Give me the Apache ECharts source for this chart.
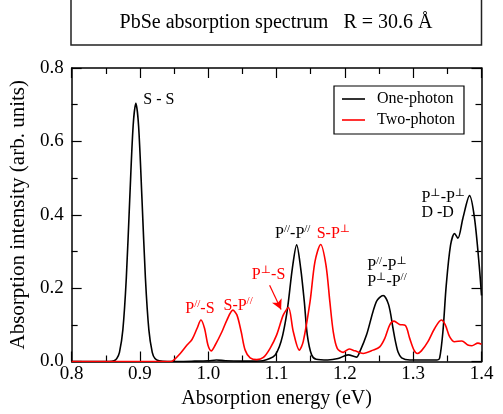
<!DOCTYPE html>
<html>
<head>
<meta charset="utf-8">
<script src="https://cdn.jsdelivr.net/npm/echarts@6/dist/echarts.min.js"></script>
<style>
html,body{margin:0;padding:0;background:#fff;}
#chart{width:503px;height:414px;}
</style>
</head>
<body>
<div id="chart"></div>
<script>
// ---- data ----
const onePhoton = [
  [0.80,0],[0.855,0],[0.862,0.002],[0.866,0.008],[0.870,0.025],[0.875,0.087],[0.880,0.227],
  [0.885,0.441],[0.890,0.642],[0.894,0.704],[0.898,0.642],[0.903,0.441],[0.908,0.227],
  [0.913,0.087],[0.918,0.025],[0.922,0.008],[0.928,0.002],[0.94,0],[0.98,0.001],[1.0,0.002],
  [1.012,0.004],[1.025,0.002],[1.05,0.001],[1.07,0.001],[1.080,0.002],[1.090,0.008],
  [1.098,0.018],[1.104,0.040],[1.109,0.072],[1.114,0.120],[1.1173,0.163],[1.1231,0.254],
  [1.1294,0.318],[1.1353,0.254],[1.1406,0.163],[1.145,0.072],[1.1513,0.018],[1.158,0.006],
  [1.175,0.004],[1.190,0.008],[1.2048,0.018],[1.2170,0.012],[1.2219,0.027],[1.2316,0.072],
  [1.246,0.163],[1.256,0.180],[1.264,0.155],[1.2705,0.090],[1.274,0.055],[1.278,0.025],
  [1.283,0.010],[1.295,0.004],[1.335,0.004],[1.3387,0.009],[1.3435,0.081],[1.3484,0.208],
  [1.3547,0.317],[1.3606,0.349],[1.3655,0.336],[1.3727,0.390],[1.3825,0.452],[1.3898,0.390],
  [1.397,0.254],[1.400,0.180]
];
const twoPhoton = [
  [0.80,0],[0.945,0],[0.9494,0.004],[0.959,0.022],[0.9689,0.045],[0.9762,0.060],[0.9835,0.090],
  [0.9893,0.113],[0.9946,0.090],[0.9995,0.045],[1.0044,0.029],[1.0102,0.045],[1.020,0.081],
  [1.0273,0.113],[1.036,0.140],[1.0419,0.127],[1.0482,0.081],[1.054,0.031],[1.0613,0.010],
  [1.071,0.005],[1.0807,0.011],[1.0905,0.036],[1.100,0.072],[1.1099,0.127],[1.1173,0.147],
  [1.1245,0.081],[1.1333,0.031],[1.139,0.054],[1.149,0.163],[1.1562,0.272],[1.1645,0.319],
  [1.1723,0.263],[1.178,0.163],[1.183,0.081],[1.1888,0.036],[1.1975,0.025],[1.2063,0.034],
  [1.2146,0.029],[1.2267,0.022],[1.2413,0.031],[1.251,0.040],[1.2584,0.063],[1.2657,0.100],
  [1.272,0.110],[1.280,0.101],[1.2886,0.098],[1.2949,0.063],[1.3012,0.031],[1.306,0.022],
  [1.312,0.029],[1.3216,0.054],[1.3314,0.090],[1.3412,0.113],[1.347,0.100],[1.3533,0.068],
  [1.3606,0.054],[1.3712,0.056],[1.380,0.045],[1.386,0.043],[1.3947,0.050],[1.400,0.047]
];
const seriesNames = ['One-photon','Two-photon'];
const xTicks = {min:0.8, max:1.4, interval:0.1};
const yTicks = {min:0.0, max:0.8, interval:0.2};
const titleText = 'PbSe absorption spectrum   R = 30.6 Å';
const xName = 'Absorption energy (eV)';
const yName = 'Absorption intensity (arb. units)';
// annotations: [rich text, energy, intensity, colour]
const annotations = [
  ['{m|S - S}', 0.905, 0.713, '#000'],
  ['{m|P}{s|//}{m|-S}', 0.9664, 0.144, '#f00'],
  ['{m|S-P}{s|//}', 1.0223, 0.152, '#f00'],
  ['{m|P}{s|⊥}{m|-S}', 1.0638, 0.236, '#f00'],
  ['{m|P}{s|//}{m|-P}{s|//}', 1.0978, 0.349, '#000'],
  ['{m|S-P}{s|⊥}', 1.1587, 0.349, '#f00'],
  ['{m|P}{s|//}{m|-P}{s|⊥}', 1.2326, 0.262, '#000'],
  ['{m|P}{s|⊥}{m|-P}{s|//}', 1.2326, 0.217, '#000'],
  ['{m|P}{s|⊥}{m|-P}{s|⊥}', 1.312, 0.447, '#000'],
  ['{m|D -D}', 1.312, 0.405, '#000']
];
const arrowFrom = [1.0898, 0.208];
const arrowTo = [1.1066, 0.1417];

const FONT = "'Liberation Serif', 'DejaVu Serif', serif";
const chart = echarts.init(document.getElementById('chart'), null, {renderer:'canvas'});

function axisCommon(){
  return {
    axisLine:{show:true, onZero:false, lineStyle:{color:'#000', width:1.5}},
    axisTick:{show:true, inside:true, length:10, lineStyle:{color:'#000', width:1.2}},
    minorTick:{show:true, splitNumber:2, length:6, lineStyle:{color:'#000', width:1.2}},
    splitLine:{show:false},
    minorSplitLine:{show:false}
  };
}
const legendLine = 'path://M0,0 L23,0 L23,1.6 L0,1.6 Z';

const option = {
  animation:false,
  backgroundColor:'#fff',
  grid:{left:71, right:21.5, top:68, bottom:52.5, containLabel:false},
  legend:{
    orient:'vertical', left:334, top:86,
    data:[{name:seriesNames[0], icon:legendLine},{name:seriesNames[1], icon:legendLine}],
    borderColor:'#000', borderWidth:1.2, borderRadius:0,
    padding:[5,9,6,8],
    itemWidth:23, itemHeight:14, itemGap:5,
    textStyle:{fontFamily:FONT, fontSize:16, color:'#000', padding:[0,0,0,7], lineHeight:16}
  },
  xAxis:[
    Object.assign({
      type:'value', position:'bottom', min:xTicks.min, max:xTicks.max, interval:xTicks.interval,
      name:xName, nameLocation:'middle', nameGap:22,
      nameTextStyle:{fontFamily:FONT, fontSize:20, color:'#000'},
      axisLabel:{show:true, fontFamily:FONT, fontSize:19, color:'#000', margin:3,
        formatter:v=>v.toFixed(1)}
    }, axisCommon()),
    Object.assign({
      type:'value', position:'top', min:xTicks.min, max:xTicks.max, interval:xTicks.interval,
      axisLabel:{show:false}
    }, axisCommon())
  ],
  yAxis:[
    Object.assign({
      type:'value', position:'left', min:yTicks.min, max:yTicks.max, interval:yTicks.interval,
      name:yName, nameLocation:'middle', nameGap:29,
      nameTextStyle:{fontFamily:FONT, fontSize:21, color:'#000'},
      axisLabel:{show:true, fontFamily:FONT, fontSize:19, color:'#000', margin:8,
        formatter:v=>v.toFixed(1)}
    }, axisCommon()),
    Object.assign({
      type:'value', position:'right', min:yTicks.min, max:yTicks.max, interval:yTicks.interval,
      axisLabel:{show:false}
    }, axisCommon())
  ],
  series:[
    {name:seriesNames[0], type:'line', data:onePhoton, xAxisIndex:0, yAxisIndex:0,
     symbol:'none', smooth:0.3, lineStyle:{color:'#000', width:1.6}, itemStyle:{color:'#000'}, z:3},
    {name:seriesNames[1], type:'line', data:twoPhoton, xAxisIndex:0, yAxisIndex:0,
     symbol:'none', smooth:0.3, lineStyle:{color:'#f00', width:1.6}, itemStyle:{color:'#f00'}, z:4,
     markLine:{silent:true, symbol:['none','arrow'], symbolSize:[8,10],
       lineStyle:{color:'#f00', width:1.2, type:'solid'}, label:{show:false},
       data:[[{coord:arrowFrom},{coord:arrowTo}]]}}
  ],
  graphic:[
    {type:'rect', id:'titlebox', shape:{x:71, y:-5, width:410.5, height:50},
     style:{fill:'#fff', stroke:'#222', lineWidth:1.5}, z:10},
    {type:'text', id:'titletext', x:276, y:23, z:11,
     style:{text:titleText, fontFamily:FONT, fontSize:20, fill:'#000', align:'center', verticalAlign:'middle'}}
  ]
};
chart.setOption(option);

const g = annotations.map((a,i)=>{
  const p = chart.convertToPixel({gridIndex:0}, [a[1], a[2]]);
  return {type:'text', id:'ann'+i, x:p[0], y:p[1], z:20,
    style:{text:a[0], align:'left', verticalAlign:'middle',
      rich:{
        m:{fontFamily:FONT, fontSize:16, fill:a[3], lineHeight:20, verticalAlign:'middle'},
        s:{fontFamily:FONT, fontSize:11, fill:a[3], lineHeight:11, verticalAlign:'top'}
      }}};
});
chart.setOption({graphic:g});
</script>
</body>
</html>
